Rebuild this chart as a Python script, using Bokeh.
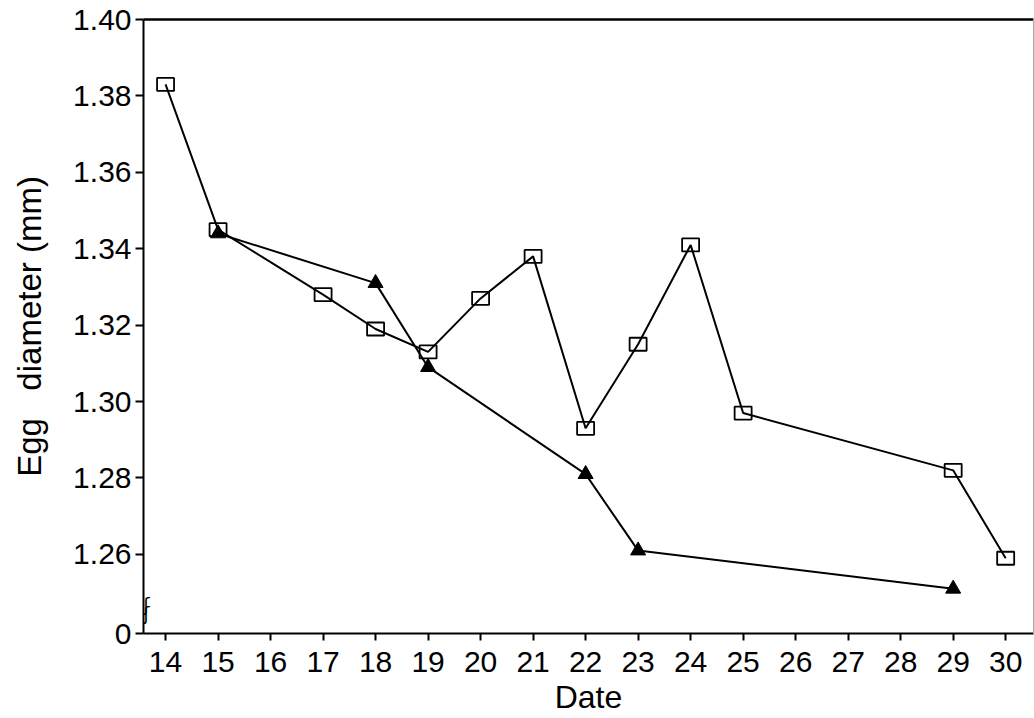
from bokeh.plotting import figure
from bokeh.models import FixedTicker, LinearAxis, Range1d, Label
from bokeh.embed import file_html
from bokeh.resources import INLINE

# ---- data ----
dates_sq = [14, 15, 17, 18, 19, 20, 21, 22, 23, 24, 25, 29, 30]
diam_sq = [1.383, 1.345, 1.328, 1.319, 1.313, 1.327, 1.338, 1.293, 1.315, 1.341, 1.297, 1.282, 1.259]

dates_tri = [15, 18, 19, 22, 23, 29]
diam_tri = [1.344, 1.331, 1.309, 1.281, 1.261, 1.251]

x_ticks = list(range(14, 31))
y_ticks = [1.2393, 1.26, 1.28, 1.30, 1.32, 1.34, 1.36, 1.38, 1.40]
y_tick_labels = ["0", "1.26", "1.28", "1.30", "1.32", "1.34", "1.36", "1.38", "1.40"]

FONT = "Liberation Sans"
X0 = 13.58

p = figure(width=1034, height=718, output_backend="svg", toolbar_location=None,
           x_range=Range1d(X0, 30.53), y_range=Range1d(1.2393, 1.40),
           min_border_left=143, min_border_right=1, min_border_top=19, min_border_bottom=85)
p.outline_line_color = None
p.grid.visible = False
p.background_fill_color = "white"
p.border_fill_color = "white"

# x axis
xa = p.xaxis[0]
xa.ticker = FixedTicker(ticks=x_ticks)
xa.axis_line_width = 2
xa.major_tick_line_width = 2
xa.major_tick_out = 7
xa.major_tick_in = 0
xa.minor_tick_out = 0
xa.minor_tick_in = 0
xa.major_label_standoff = 11
xa.major_label_text_font = FONT
xa.major_label_text_font_size = "30px"
xa.major_label_text_color = "black"
xa.axis_label = "Date"
xa.axis_label_text_font = FONT
xa.axis_label_text_font_style = "normal"
xa.axis_label_text_font_size = "32px"
xa.axis_label_text_color = "black"
xa.axis_label_standoff = 4

# y axis
ya = p.yaxis[0]
ya.ticker = FixedTicker(ticks=y_ticks)
ya.major_label_overrides = {t: l for t, l in zip(y_ticks, y_tick_labels)}
ya.axis_line_width = 2
ya.major_tick_line_width = 2
ya.major_tick_out = 8
ya.major_tick_in = 0
ya.minor_tick_out = 0
ya.minor_tick_in = 0
ya.major_label_standoff = 4
ya.major_label_text_font = FONT
ya.major_label_text_font_size = "30px"
ya.major_label_text_color = "black"
ya.axis_label = "Egg\u00a0\u00a0 diameter (mm)"
ya.axis_label_text_font = FONT
ya.axis_label_text_font_style = "normal"
ya.axis_label_text_font_size = "33px"
ya.axis_label_text_color = "black"
ya.axis_label_standoff = 22

# top and right frame lines
top = LinearAxis(ticker=FixedTicker(ticks=[]), major_label_text_font_size="0px",
                 axis_line_width=2.5, major_tick_out=0, minor_tick_out=0)
right = LinearAxis(ticker=FixedTicker(ticks=[]), major_label_text_font_size="0px",
                   axis_line_width=1, axis_line_color="#aaaaaa", major_tick_out=0, minor_tick_out=0)
p.add_layout(top, "above")
p.add_layout(right, "right")

# series
p.line(dates_sq, diam_sq, line_color="black", line_width=2)
p.line(dates_tri, diam_tri, line_color="black", line_width=2)
p.rect(dates_sq, diam_sq, width=17, height=13, width_units="screen", height_units="screen",
       fill_alpha=0, line_color="black", line_width=1.8)
p.scatter(dates_tri, diam_tri, marker="triangle", size=15, fill_color="black", line_color="black")

# axis break marks
for yb in (1.2445, 1.2468):
    p.add_layout(Label(x=X0, y=yb, x_offset=3, text="\u0283", text_font="DejaVu Sans",
                       text_font_size="18px", text_align="center", text_baseline="middle",
                       text_color="black"))

open("out.html", "w").write(file_html(p, INLINE))
